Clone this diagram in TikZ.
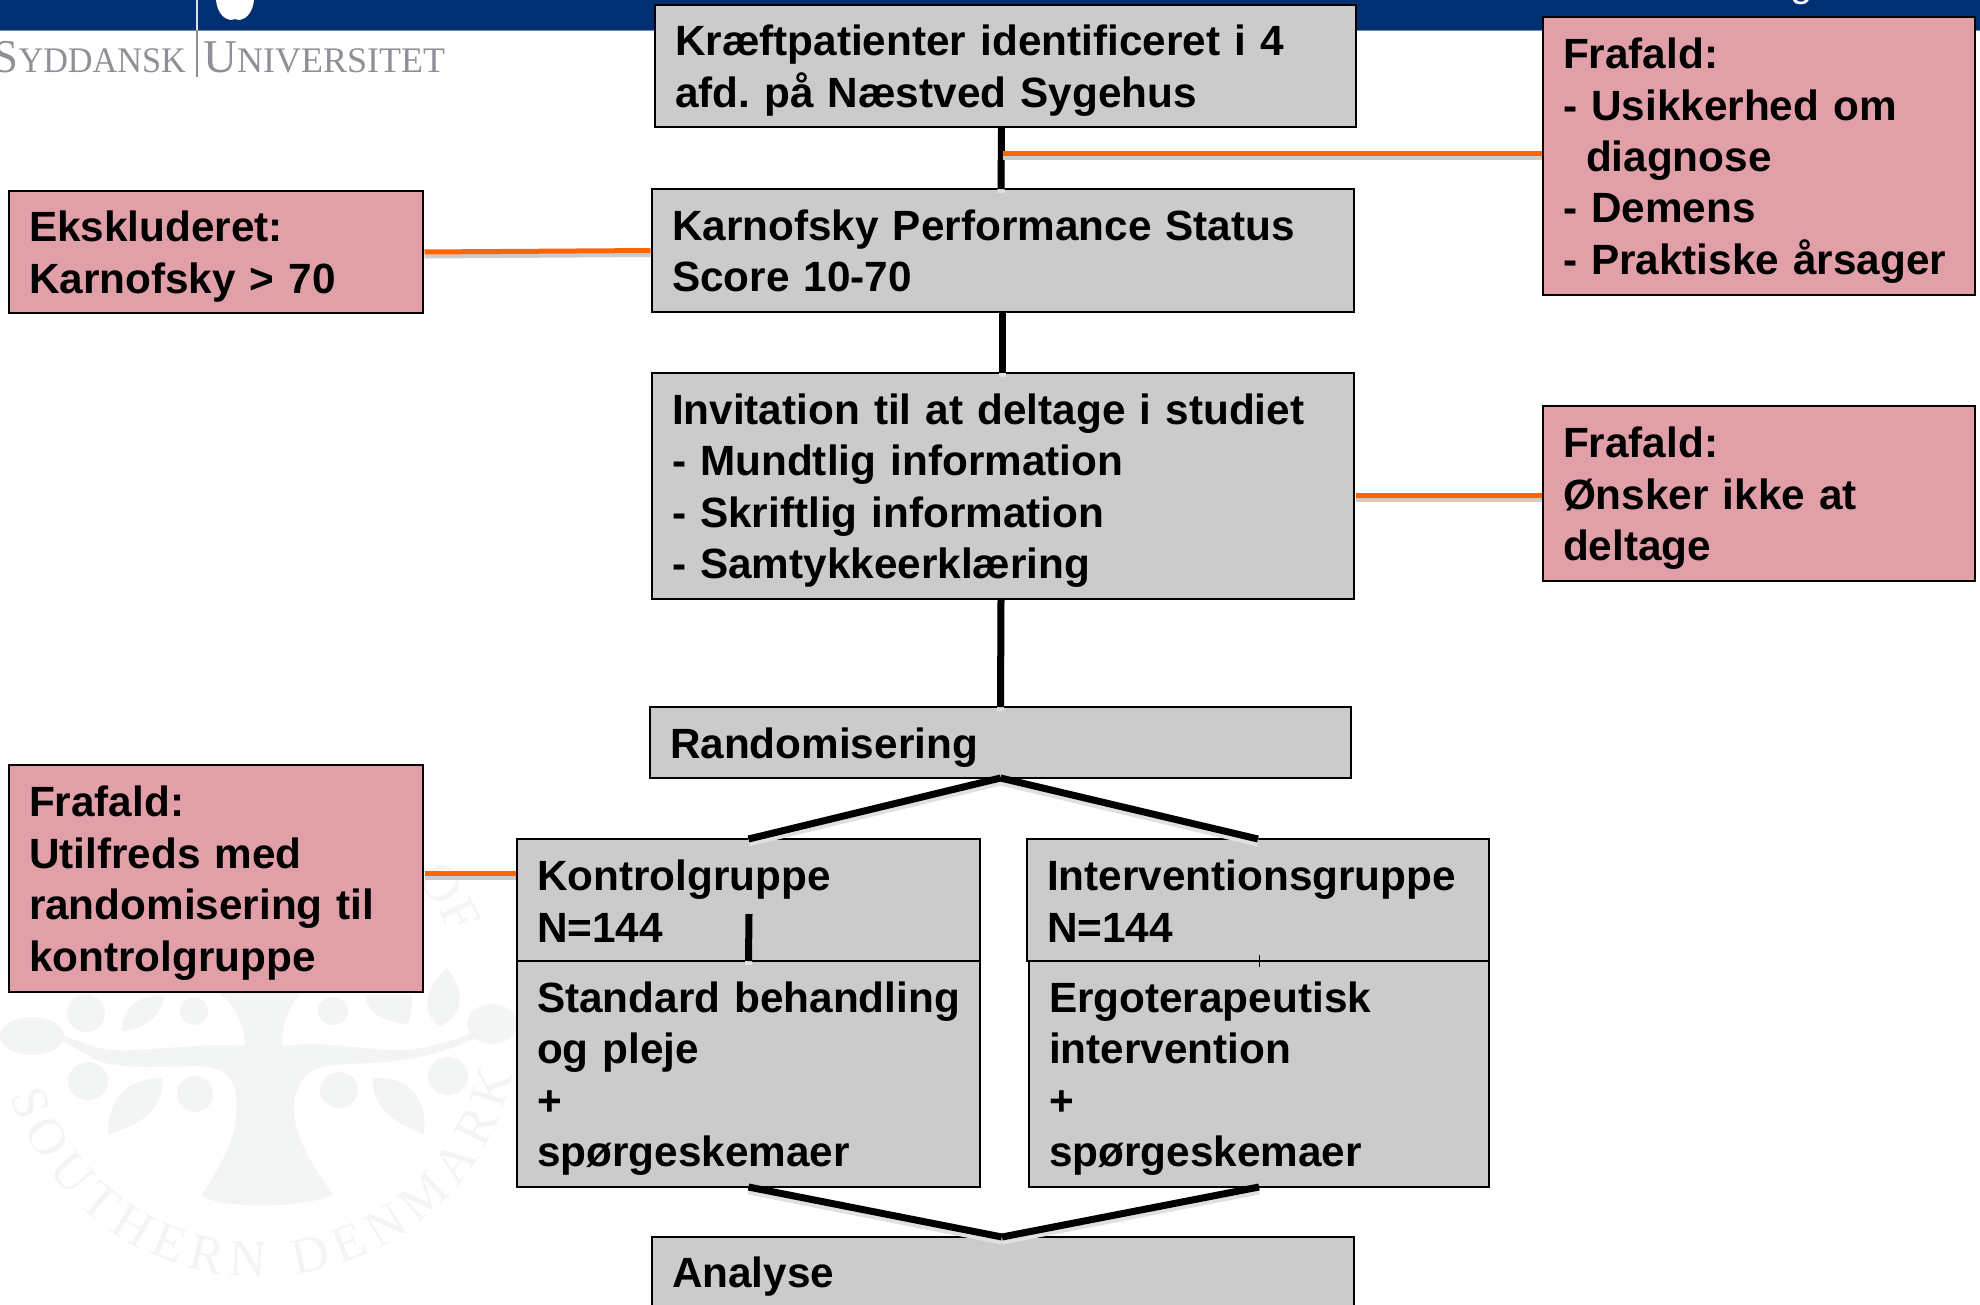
\documentclass[tikz,border=0pt]{standalone}
\usepackage{fontspec}
\setmainfont{Liberation Sans}
\newfontfamily\logofont{Liberation Serif}
\usetikzlibrary{decorations.text}
\definecolor{bandblue}{HTML}{003071}
\definecolor{boxgrey}{HTML}{CBCBCB}
\definecolor{boxpink}{HTML}{E19FA8}
\definecolor{linkorange}{HTML}{FF6600}
\definecolor{linkshade}{HTML}{CCCCCC}
\definecolor{sealtint}{HTML}{F2F5F3}
\definecolor{logogrey}{HTML}{908F97}
\tikzset{
	flowbox/.style 2 args={draw=black, line width=2.7pt, outer sep=0pt, anchor=north west, align=left,
		minimum width=#1pt, minimum height=#2pt, text width=#1pt-40pt,
		inner xsep=20pt, inner ysep=0pt, text height=40pt,
		font=\fontsize{42.3}{51.4}\selectfont\bfseries\frenchspacing},
	greybox/.style 2 args={flowbox={#1}{#2}, fill=boxgrey},
	pinkbox/.style 2 args={flowbox={#1}{#2}, fill=boxpink},
	logoword/.style={logogrey, inner sep=0pt, anchor=base west}
}
\newcommand{\logocaps}[2]{{\logofont\fontsize{47}{47}\selectfont #1\fontsize{36}{36}\selectfont #2}}
\newcommand{\flowedge}[2]{
	\draw[EdgeShade] #1 -- #2;
	\draw[EdgeStyle] #1 -- #2;
}

\begin{document}
\begin{tikzpicture}[x=1pt,y=-1pt]
	\useasboundingbox (0,0) rectangle (1980,1304);
	\fill[sealtint] (201,1196) .. controls (225,1160) and (240,1130) .. (236,1096)
		.. controls (235,1080) and (225,1068) .. (203,1066)
		.. controls (170,1066) and (130,1070) .. (101,1062)
		.. controls (85,1055) and (70,1045) .. (61,1039) -- (63,1035)
		.. controls (80,1042) and (95,1048) .. (110,1050)
		.. controls (150,1052) and (200,1042) .. (245,1046)
		.. controls (245,1030) and (240,1010) .. (216,990) -- (304,990)
		.. controls (290,1005) and (282,1020) .. (282,1046)
		.. controls (330,1040) and (370,1052) .. (410,1050)
		.. controls (440,1045) and (460,1038) .. (480,1030) -- (482,1035)
		.. controls (460,1045) and (440,1055) .. (400,1060)
		.. controls (370,1066) and (330,1060) .. (310,1072)
		.. controls (298,1080) and (293,1100) .. (294,1113)
		.. controls (296,1140) and (315,1170) .. (333,1194)
		.. controls (310,1208) and (225,1210) .. (201,1196) -- cycle;
	\foreach \cx/\cy/\rx/\ry in {32/1036/32/19, 86/1013/19/19, 194/1011/14/14, 88/1081/20/19,
		195/1094/18/18, 339/1090/19/18, 448/1076/20/19, 333/1011/15/14, 492/1024/25/20}
		\fill[sealtint] (\cx,\cy) ellipse (\rx pt and \ry pt);
	\fill[sealtint] (165,995) .. controls (160,1015) and (150,1028) .. (122,1031) .. controls (122,1010) and (135,995) .. (165,995) -- cycle;
	\fill[sealtint] (162,1078) .. controls (165,1105) and (145,1125) .. (108,1134) .. controls (108,1100) and (125,1078) .. (162,1078) -- cycle;
	\fill[sealtint] (373,1078) .. controls (410,1075) and (428,1100) .. (424,1134) .. controls (395,1125) and (370,1105) .. (373,1078) -- cycle;
	\fill[sealtint] (365,995) -- (412,995) .. controls (412,1010) and (410,1020) .. (408,1024) .. controls (385,1022) and (368,1015) .. (365,995) -- cycle;
	\fill[sealtint] (447,968) .. controls (465,990) and (465,1015) .. (440,1026) .. controls (420,1015) and (425,985) .. (447,968) -- cycle;
	\path[decorate, decoration={text along path, text color=sealtint, text align={fit to path},
		text={|\logofont\fontsize{52}{52}\selectfont|SOUTHERN DENMARK}}]
		(10.2,1094.9) arc[start angle=197.6, end angle=347, radius=261pt];
	\path[decorate, decoration={text along path, text color=sealtint, text align=center,
		text={|\logofont\fontsize{52}{52}\selectfont|OF}}]
		(408.6,871.5) arc[start angle=44, end angle=20, radius=208pt];

	\fill[bandblue] (0,0) rectangle (1980,30);
	\draw[line width=1pt, color=bandblue!55] (0,30.5) -- (1980,30.5);
	\fill[white] (216,0) .. controls (217,10) and (222,19) .. (231,20) .. controls (233,20) and (234,19) .. (235,19)
		.. controls (236,19) and (237,20) .. (239,20) .. controls (248,19) and (253,10) .. (254,0) -- cycle;
	\node[white, inner sep=0pt, anchor=base, font=\fontsize{40}{40}\selectfont] (bandtext) at (1802,-4) {g};
	\draw[line width=2pt, color=white!85!bandblue] (197,0) -- (197,30);
	\draw[line width=2pt, logogrey] (197,30) -- (197,77);
	\node[logoword, anchor=base east, xscale=0.95, transform shape] (logoleft) at (186,72) {\logocaps{S}{YDDANSK}};
	\node[logoword] (logoright) at (203,72) {\logocaps{U}{NIVERSITET}};

	\node[greybox={701}{122}] (kraeft) at (655,5) {Kræftpatienter identificeret i 4\\afd. på Næstved Sygehus};
	\node[greybox={702}{123}, text height=32pt] (karnofsky) at (652,189) {Karnofsky Performance Status\\Score 10-70};
	\node[greybox={702}{226}] (invitation) at (652,373) {Invitation til at deltage i studiet\\- Mundtlig information\\- Skriftlig information\\- Samtykkeerklæring};
	\node[greybox={701}{71}] (random) at (650,707) {Randomisering};
	\node[greybox={463}{122}, text height=33pt] (kontrol) at (517,839) {Kontrolgruppe\\N=144};
	\node[greybox={462}{122}, text height=33pt] (interv) at (1027,839) {Interventionsgruppe\\N=144};
	\node[greybox={463}{226}] (standard) at (517,961) {\mbox{Standard behandling}\\og pleje\\+\\spørgeskemaer};
	\node[greybox={460}{226}] (ergo) at (1029,961) {Ergoterapeutisk\\intervention\\+\\spørgeskemaer};
	\node[greybox={702}{74}, text height=36pt] (analyse) at (652,1237) {Analyse};
	\node[pinkbox={414}{122}] (ekskl) at (9,191) {Ekskluderet:\\Karnofsky > 70};
	\node[pinkbox={432}{278}] (diagnose) at (1543,17) {Frafald:\\- Usikkerhed om\\\hspace*{23pt}diagnose\\- Demens\\- Praktiske årsager};
	\node[pinkbox={432}{175}] (oensker) at (1543,406) {Frafald:\\Ønsker ikke at\\deltage};
	\node[pinkbox={414}{227}] (utilfreds) at (9,765) {Frafald:\\Utilfreds med\\randomisering til\\kontrolgruppe};

	\coordinate (junction) at (1001,153);
	\coordinate (stubtop) at (749,914);
	\coordinate (ticktop) at (1259,955);
	\tikzstyle{EdgeStyle}=[line width=7pt, black]
	\tikzstyle{EdgeShade}=[line width=7pt, linkshade!60, transform canvas={yshift=-4pt}]
	\flowedge{([xshift=-4pt]kraeft.south)}{([xshift=-2pt]karnofsky.north)}
	\flowedge{([xshift=-1pt]karnofsky.south)}{([xshift=-1pt]invitation.north)}
	\flowedge{([xshift=-2pt]invitation.south)}{(random.north)}
	\flowedge{(random.south)}{(kontrol.north)}
	\flowedge{(random.south)}{(interv.north)}
	\flowedge{(stubtop)}{(kontrol.south)}
	\flowedge{(standard.south)}{([xshift=-1pt]analyse.north)}
	\flowedge{(ergo.south)}{([xshift=-1pt]analyse.north)}
	\draw[line width=1pt, black] (ticktop) -- ([yshift=-6pt]ergo.north);
	\tikzstyle{EdgeStyle}=[line width=5pt, linkorange, shorten <=1.5pt, shorten >=1.5pt]
	\tikzstyle{EdgeShade}=[line width=5pt, linkshade, shorten <=1.5pt, shorten >=1.5pt, transform canvas={yshift=-4pt}]
	\flowedge{(junction)}{(diagnose.west |- junction)}
	\flowedge{(ekskl.east)}{(karnofsky.west)}
	\flowedge{([yshift=-1.5pt]invitation.east |- oensker.west)}{([yshift=-1.5pt]oensker.west)}
	\flowedge{(utilfreds.east |- 0,873)}{(kontrol.west |- 0,873)}
\end{tikzpicture}
\end{document}
